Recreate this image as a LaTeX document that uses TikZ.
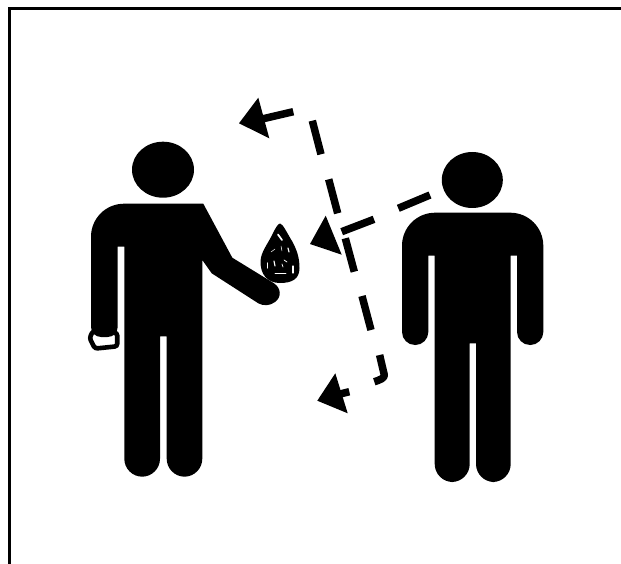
\documentclass[tikz,border=0pt]{standalone}
\begin{document}
\begin{tikzpicture}[x=1pt,y=-1pt,
  figure/.style={fill=black,draw=none},
  dashpiece/.style={draw=black,line width=7.5pt,line cap=butt},
  headtip/.style={fill=black,draw=none},
  scratch/.style={draw=white,line width=0.8pt,line cap=round}]
\useasboundingbox (0,0) rectangle (621,564);
\fill[white] (0,0) rectangle (621,564);
% frame
\draw[line width=2.6pt,black] (9.4,564) -- (9.4,8.3) -- (621,8.3);
% LEFT PERSON
\draw[black,line width=4.6pt,fill=white,rounded corners=2.5pt]
  (89.6,338) -- (93,331) -- (117.2,333) -- (117.2,346.3) -- (95,348.6) -- cycle;
\fill[figure] (163,169.7) ellipse [x radius=31,y radius=28];
\fill[figure] (124.3,246.7) -- (117.7,246.7) [rounded corners=10pt] -- (117.7,337) -- (91,337)
  [rounded corners=33pt] -- (91,203.7) [sharp corners] -- (203.3,203.7) -- (232.3,257.7) -- (274,283.3)
  .. controls (281,288) and (282,297) .. (275,302) .. controls (270,306) and (263,306) .. (258.3,303.3)
  -- (211.7,273.3) -- (202.3,260) [rounded corners=18pt] -- (202.3,476.7) -- (166.7,476.7)
  [sharp corners] -- (166.7,336.3) -- (160,336.3) [rounded corners=18pt] -- (160,476.7) -- (124.3,476.7)
  [sharp corners] -- cycle;
% GEM
\fill[figure] (280,223.5) .. controls (283,224) and (287,233) .. (292,241)
  .. controls (297,250) and (299.5,258) .. (299.5,268) .. controls (299.5,279) and (292,283) .. (280,283)
  .. controls (267,283) and (260.5,274) .. (260.5,262) .. controls (260.5,252) and (268,244) .. (273,233)
  .. controls (275,229) and (278,223.5) .. (280,223.5) -- cycle;
\draw[scratch,line width=1.7pt] (278,234.5) -- (282,240);
\draw[scratch] (275,273) -- (286,273);
\draw[scratch,line width=1.2pt] (267.5,263) -- (267.5,268);
\draw[scratch,line width=1.2pt] (293,266) -- (293,273);
\draw[scratch,line width=1.1pt] (274,261) -- (275,266);
\draw[scratch,line width=1.1pt] (288,248) -- (289,252);
\draw[scratch,line width=.5pt] (281,246) -- (282,251);
\draw[scratch,line width=.5pt] (271,252) -- (275,249);
\draw[scratch,line width=.7pt] (284,260) -- (287,262);
\draw[scratch,line width=.7pt] (282,264) -- (283,267);
% RIGHT PERSON
\fill[figure] (472.3,180) ellipse [x radius=30.5,y radius=28];
\fill[figure] (434.7,255.7) -- (428.3,255.7) [rounded corners=13pt] -- (428.3,345) -- (402,345)
  [rounded corners=33pt] -- (402,212.7) -- (543.3,212.7) [rounded corners=13pt] -- (543.3,345) -- (517,345)
  [sharp corners] -- (517,255.7) -- (510.7,255.7) [rounded corners=18pt] -- (510.7,482) -- (476,482)
  [sharp corners] -- (476,343.3) -- (469.7,343.3) [rounded corners=18pt] -- (469.7,482) -- (434.7,482)
  [sharp corners] -- cycle;
% ARROW A: from the right person, to the gem
\coordinate (a1) at (430,195); \coordinate (a2) at (398.3,208.3);
\coordinate (a3) at (374,219.3); \coordinate (a4) at (341.7,231.7);
\draw[dashpiece] (a1) -- (a2);
\draw[dashpiece] (a3) -- (a4);
\fill[headtip] (310,244) -- (325.7,215.7) -- (341.7,254.7) -- cycle;
% ARROW B: up and over
\coordinate (b1) at (293.3,111.7); \coordinate (b2) at (263.3,118.7);
\draw[dashpiece] (b1) -- (b2);
\fill[headtip] (239,123.3) -- (258.3,97.7) -- (269.3,138.3) -- cycle;
\draw[dashpiece] (312.3,120.7) -- (321,154.3);
\draw[dashpiece] (328.7,179.3) -- (337.7,213.3);
\draw[dashpiece] (345.3,238.3) -- (354.3,271.7);
\draw[dashpiece] (362,296) -- (371,330);
\draw[dashpiece,line join=round] (379.6,355) -- (384.3,375) .. controls (384.6,378) and (380,380) .. (374.3,381.7);
\draw[dashpiece] (349.3,391.7) -- (340,394);
\fill[headtip] (317.3,400.7) -- (335.3,373.3) -- (347.7,413.3) -- cycle;
\end{tikzpicture}
\end{document}
